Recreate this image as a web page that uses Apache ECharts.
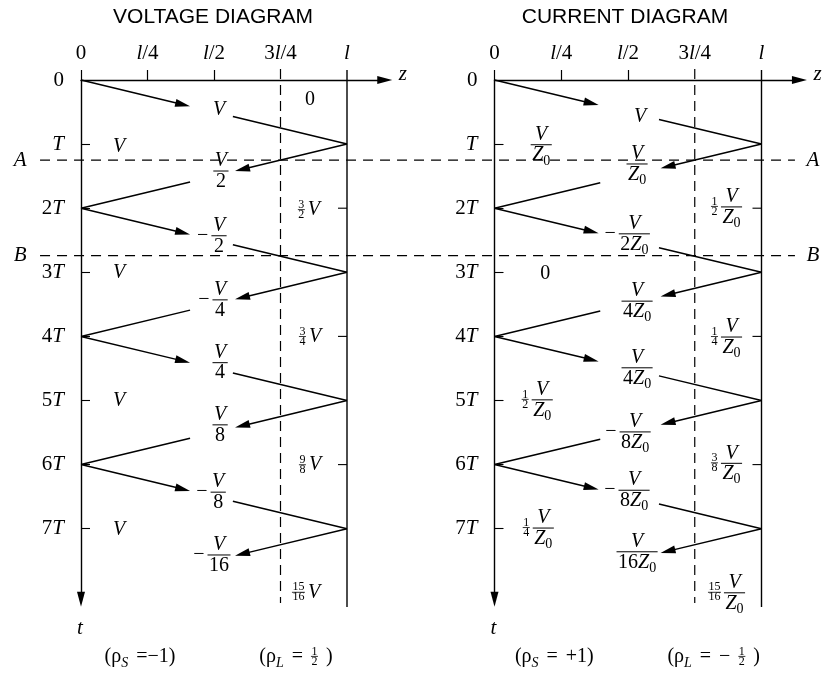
<!DOCTYPE html>
<html><head><meta charset="utf-8">
<script src="https://cdn.jsdelivr.net/npm/echarts@6/dist/echarts.min.js"></script>
<style>html,body{margin:0;padding:0;background:#fff}#c{width:825px;height:673px}</style>
</head><body><div id="c"></div>
<script>
// ---------- data ----------
const titles = ['VOLTAGE DIAGRAM', 'CURRENT DIAGRAM'];
const zTickValues = [0, 0.25, 0.5, 0.75, 1];
const zTickLabels = ['0', 'l/4', 'l/2', '3l/4', 'l'];
const zTickMarks = [0, 0.25, 0.5];
const tTickValues = [0, 1, 2, 3, 4, 5, 6, 7];
const tTickLabels = ['0', 'T', '2T', '3T', '4T', '5T', '6T', '7T'];
const tTickMarks = [1, 2, 3, 4, 5, 6, 7];
// bounce trips: [z start, t start, z end, t end] (z in units of l, t in units of T)
const trips = [
  [0, 0, 1, 1], [1, 1, 0, 2], [0, 2, 1, 3], [1, 3, 0, 4],
  [0, 4, 1, 5], [1, 5, 0, 6], [0, 6, 1, 7], [1, 7, 0, 8]
];
// where each trip's line is interrupted by its label: [fwd tip, fwd resume, bwd tip, bwd resume]
const voltCuts = [0.41, 0.571, 0.579, 0.41];
const currCuts = [0.39, 0.616, 0.622, 0.396];
// labels: [z, t, text]
const voltLabels = [
  [0.861, 0.312, '0'], [0.519, 0.468, 'V'],
  [0.143, 1.045, 'V'], [0.143, 3.01, 'V'], [0.143, 5.01, 'V'], [0.143, 7.01, 'V'],
  [0.526, 1.42, 'V/2'], [0.857, 2.03, '3/2 V'], [0.492, 2.43, '− V/2'],
  [0.496, 3.43, '− V/4'], [0.861, 4.01, '3/4 V'], [0.523, 4.41, 'V/4'],
  [0.523, 5.38, 'V/8'], [0.861, 6.01, '9/8 V'], [0.489, 6.43, '− V/8'],
  [0.492, 7.41, '− V/16'], [0.846, 8.0, '15/16 V']
];
const currLabels = [
  [0.545, 0.577, 'V'], [0.175, 1.01, 'V/Z_0'], [0.534, 1.31, 'V/Z_0'],
  [0.869, 1.98, '1/2 V/Z_0'], [0.497, 2.40, '− V/2Z_0'], [0.190, 3.03, '0'],
  [0.534, 3.45, 'V/4Z_0'], [0.869, 4.01, '1/4 V/Z_0'], [0.534, 4.49, 'V/4Z_0'],
  [0.160, 4.99, '1/2 V/Z_0'], [0.500, 5.49, '− V/8Z_0'], [0.869, 5.98, '3/8 V/Z_0'],
  [0.496, 6.40, '− V/8Z_0'], [0.164, 6.99, '1/4 V/Z_0'], [0.534, 7.36, 'V/16Z_0'],
  [0.869, 8.0, '15/16 V/Z_0']
];
const voltRho = [[0.222, 9.0, '(ρ_S =−1)'], [0.808, 9.0, '(ρ_L = 1/2 )']];
const currRho = [[0.224, 9.0, '(ρ_S = +1)'], [0.821, 9.0, '(ρ_L = − 1/2 )']];
const loadTickTimes = [2, 4, 6];
const markerTimes = [1.25, 2.74];
const markerNames = ['A', 'B'];

// ---------- helpers ----------
const SERIF = '"Liberation Serif", "Times New Roman", serif';
const mctx = document.createElement('canvas').getContext('2d');
function fontStr(r) { return (r.italic ? 'italic ' : '') + r.size + 'px ' + SERIF; }
function measure(rs) {
  let w = 0;
  rs.forEach(r => { mctx.font = fontStr(r); r.w = mctx.measureText(r.text).width; w += r.w; });
  return w;
}
function toRuns(s, size) {
  const out = [];
  for (let i = 0; i < s.length; i++) {
    let c = s[i], sub = false;
    if (c === '_' && i + 1 < s.length) { sub = true; c = s[++i]; }
    const italic = /[A-Za-z]/.test(c);
    const r = { text: c, italic, size: sub ? Math.round(size * 0.7) : size, dy: sub ? size * 0.3 : 0 };
    const last = out[out.length - 1];
    if (last && last.italic === r.italic && last.size === r.size && last.dy === r.dy) last.text += c;
    else out.push(r);
  }
  return out;
}
function emitRuns(ch, rs, x, cy) {
  rs.forEach(r => {
    ch.push({ type: 'text', style: { text: r.text, x: x, y: cy + r.dy, font: fontStr(r), fill: '#000', align: 'left', verticalAlign: 'middle' } });
    x += r.w;
  });
}
function buildExpr(spec, cx, cy, base, gap) {
  base = base || 20;
  gap = gap == null ? 3 : gap;
  const items = spec.split(' ').map(tok => {
    const m = tok.match(/^([^/()]+)\/([^/()]+)$/);
    if (m) {
      const small = /^\d+$/.test(m[1]) && /^\d+$/.test(m[2]);
      const size = small ? 12 : base;
      const nr = toRuns(m[1], size), dr = toRuns(m[2], size);
      const nw = measure(nr), dw = measure(dr);
      return { frac: true, small, nr, dr, nw, dw, w: Math.max(nw, dw) + (small ? 1 : 3) };
    }
    const r = toRuns(tok, base);
    return { frac: false, r, w: measure(r) };
  });
  const total = items.reduce((a, it) => a + it.w, 0) + gap * (items.length - 1);
  let x = cx - total / 2;
  const ch = [];
  items.forEach(it => {
    if (it.frac) {
      const ly = it.small ? cy - 0.5 : cy;
      ch.push({ type: 'line', shape: { x1: x, y1: ly, x2: x + it.w, y2: ly }, style: { stroke: '#000', lineWidth: it.small ? 0.8 : 1 } });
      emitRuns(ch, it.nr, x + (it.w - it.nw) / 2, ly - (it.small ? 5 : 10));
      emitRuns(ch, it.dr, x + (it.w - it.dw) / 2, ly + (it.small ? 5 : 10.5));
    } else emitRuns(ch, it.r, x, cy);
    x += it.w + gap;
  });
  return ch;
}
function richLabel(s) {
  return s.split('').map(c => /[A-Za-z]/.test(c) ? '{i|' + c + '}' : '{n|' + c + '}').join('');
}
const richStyles = {
  i: { fontFamily: SERIF, fontStyle: 'italic', fontSize: 21, color: '#000' },
  n: { fontFamily: SERIF, fontSize: 21, color: '#000' }
};

function waveRender(cuts) {
  return function (params, api) {
    const i = params.dataIndex, tr = trips[i];
    const z0 = tr[0], t0 = tr[1], z1 = tr[2], t1 = tr[3];
    const at = z => t0 + (z - z0) / (z1 - z0) * (t1 - t0);
    const fwd = z1 > z0;
    let pieces = fwd ? [[z0, cuts[0], true], [cuts[1], z1, false]] : [[z0, cuts[2], true]];
    if (!fwd && i !== trips.length - 1) pieces.push([cuts[3], z1, false]);
    const ch = [];
    pieces.forEach(pc => {
      const p1 = api.coord([pc[0], at(pc[0])]), p2 = api.coord([pc[1], at(pc[1])]);
      if (pc[2]) {
        const dx = p2[0] - p1[0], dy = p2[1] - p1[1], L = Math.hypot(dx, dy), ux = dx / L, uy = dy / L;
        const AL = 15, AW = 4;
        const bx = p2[0] - ux * AL, by = p2[1] - uy * AL;
        ch.push({ type: 'line', shape: { x1: p1[0], y1: p1[1], x2: bx + ux * 3, y2: by + uy * 3 }, style: { stroke: '#000', lineWidth: 1.5 } });
        ch.push({ type: 'polygon', shape: { points: [[p2[0], p2[1]], [bx - uy * AW, by + ux * AW], [bx + uy * AW, by - ux * AW]] }, style: { fill: '#000' } });
      } else {
        ch.push({ type: 'line', shape: { x1: p1[0], y1: p1[1], x2: p2[0], y2: p2[1] }, style: { stroke: '#000', lineWidth: 1.5 } });
      }
    });
    return { type: 'group', children: ch };
  };
}
function frameRender(params, api) {
  const ch = [];
  const a = api.coord([1, -0.156]), b = api.coord([1, 8.22]);
  ch.push({ type: 'line', shape: { x1: a[0], y1: a[1], x2: b[0], y2: b[1] }, style: { stroke: '#000', lineWidth: 1.4 } });
  const c = api.coord([0.75, -0.17]), d = api.coord([0.75, 8.16]);
  ch.push({ type: 'line', shape: { x1: c[0], y1: c[1], x2: d[0], y2: d[1] }, style: { stroke: '#000', lineWidth: 1.2, lineDash: [10, 6] } });
  loadTickTimes.forEach(t => {
    const p = api.coord([1, t]);
    ch.push({ type: 'line', shape: { x1: p[0] - 9, y1: p[1], x2: p[0], y2: p[1] }, style: { stroke: '#000', lineWidth: 1.1 } });
  });
  return { type: 'group', children: ch };
}
function labelRender(list) {
  return function (params, api) {
    const d = list[params.dataIndex];
    const p = api.coord([d[0], d[1]]);
    return { type: 'group', children: buildExpr(d[2], p[0], p[1]) };
  };
}
function markerRender(params, api) {
  const t = markerTimes[params.dataIndex];
  const a = api.coord([-0.154, t]), b = api.coord([2.684, t]);
  const ch = [{ type: 'line', shape: { x1: a[0], y1: a[1], x2: b[0], y2: b[1] }, style: { stroke: '#000', lineWidth: 1.1, lineDash: [10, 7] } }];
  const l = api.coord([-0.229, t]), r = api.coord([2.752, t]);
  return { type: 'group', children: ch.concat(buildExpr(markerNames[params.dataIndex], l[0], l[1], 21), buildExpr(markerNames[params.dataIndex], r[0], r[1], 21)) };
}
function miscRender(rho) {
  return function (params, api) {
    let ch = [];
    const zp = api.coord([1.21, -0.09]);
    ch = ch.concat(buildExpr('z', zp[0], zp[1], 21));
    const tp = api.coord([-0.004, 8.55]);
    ch = ch.concat(buildExpr('t', tp[0], tp[1], 21));
    rho.forEach(r => { const p = api.coord([r[0], r[1]]); ch = ch.concat(buildExpr(r[2], p[0], p[1], 20, 8)); });
    return { type: 'group', children: ch };
  };
}

// ---------- chart ----------
const PX_T = 64.1, ZMAX = 1.142, TMAX = 8.10;
const grids = [
  { left: 81, top: 80, width: ZMAX * 266, height: TMAX * PX_T, containLabel: false, outerBoundsMode: 'none' },
  { left: 494.5, top: 80, width: ZMAX * 267, height: TMAX * PX_T, containLabel: false, outerBoundsMode: 'none' }
];
function xAxisFor(i) {
  return {
    type: 'value', gridIndex: i, position: 'top', min: 0, max: ZMAX, interval: 0.25,
    axisLine: { show: true, onZero: false, lineStyle: { color: '#000', width: 1.4 }, symbol: ['none', 'triangle'], symbolSize: [8, 15] },
    axisTick: { show: true, inside: false, length: 10, customValues: zTickMarks, lineStyle: { color: '#000', width: 1.2 } },
    axisLabel: {
      show: true, margin: 16, customValues: zTickValues, fontSize: 21, fontFamily: SERIF, color: '#000',
      formatter: v => { const k = zTickValues.indexOf(v); return k < 0 ? '' : richLabel(zTickLabels[k]); },
      rich: richStyles
    },
    splitLine: { show: false }
  };
}
function yAxisFor(i) {
  return {
    type: 'value', gridIndex: i, inverse: true, min: 0, max: TMAX, interval: 1,
    axisLine: { show: true, onZero: false, lineStyle: { color: '#000', width: 1.4 }, symbol: ['triangle', 'none'], symbolSize: [8, 15] },
    axisTick: { show: true, inside: true, length: 9, customValues: tTickMarks, lineStyle: { color: '#000', width: 1.1 } },
    axisLabel: {
      show: true, margin: 17, customValues: tTickValues, fontSize: 21, fontFamily: SERIF, color: '#000',
      formatter: v => { const k = tTickValues.indexOf(v); return k < 0 ? '' : richLabel(tTickLabels[k]); },
      rich: richStyles
    },
    splitLine: { show: false }
  };
}
function cs(i, data, render) {
  return { type: 'custom', xAxisIndex: i, yAxisIndex: i, data: data, encode: { x: 0, y: 1 }, renderItem: render, clip: false, silent: true, animation: false };
}
const titleFont = { fontFamily: '"Liberation Sans", Arial, sans-serif', fontSize: 21, fontWeight: 'normal', color: '#000' };
const option = {
  backgroundColor: '#fff',
  animation: false,
  title: [
    { text: titles[0], left: 208, top: 2, textAlign: 'center', textStyle: titleFont },
    { text: titles[1], left: 620, top: 2, textAlign: 'center', textStyle: titleFont }
  ],
  grid: grids,
  xAxis: [xAxisFor(0), xAxisFor(1)],
  yAxis: [yAxisFor(0), yAxisFor(1)],
  series: [
    cs(0, [[1, 0]], frameRender),
    cs(1, [[1, 0]], frameRender),
    cs(0, markerTimes.map(t => [0, t]), markerRender),
    cs(0, trips.map(t => [t[0], t[1]]), waveRender(voltCuts)),
    cs(1, trips.map(t => [t[0], t[1]]), waveRender(currCuts)),
    cs(0, voltLabels.map(d => [d[0], d[1]]), labelRender(voltLabels)),
    cs(1, currLabels.map(d => [d[0], d[1]]), labelRender(currLabels)),
    cs(0, [[0, 0]], miscRender(voltRho)),
    cs(1, [[0, 0]], miscRender(currRho))
  ]
};
const chart = echarts.init(document.getElementById('c'), null, { renderer: 'canvas' });
chart.setOption(option);
</script>
</body></html>
